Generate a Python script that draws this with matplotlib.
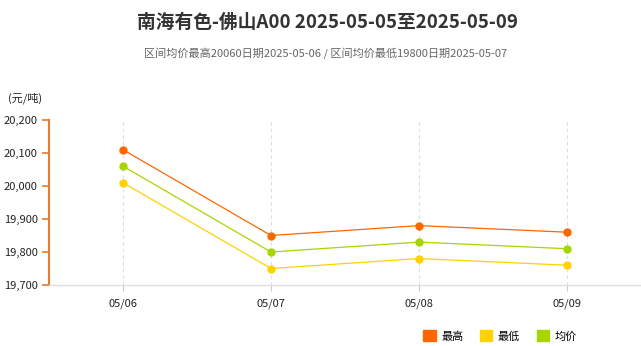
import matplotlib.pyplot as plt
from matplotlib.patches import Patch
from matplotlib.ticker import FuncFormatter

plt.rcParams['font.family'] = ['Noto Sans CJK SC', 'DejaVu Sans']

dates = ['05/06', '05/07', '05/08', '05/09']
high = [20110, 19850, 19880, 19860]
low = [20010, 19750, 19780, 19760]
avg = [20060, 19800, 19830, 19810]
series_names = ['最高', '最低', '均价']
colors = ['#FF6600', '#FFD200', '#A6D600']

fig = plt.figure(figsize=(6.41, 3.46), dpi=100)
ax = fig.add_axes([49 / 641, 61 / 346, 592 / 641, 165 / 346])

x = list(range(len(dates)))
for vals, c in zip([high, low, avg], colors):
    ax.plot(x, vals, color=c, lw=0.9, marker='o', ms=5, mec=c, mfc=c, zorder=3)

for xi in x:
    ax.axvline(xi, color='#dddddd', lw=0.8, ls=(0, (3, 3)), zorder=1)

ax.set_xlim(-0.5, 3.5)
ax.set_ylim(19700, 20200)
ax.set_yticks([19700, 19800, 19900, 20000, 20100, 20200])
ax.yaxis.set_major_formatter(FuncFormatter(lambda v, p: f'{int(v):,}'))
ax.set_xticks(x)
ax.set_xticklabels(dates)

for s in ['top', 'right']:
    ax.spines[s].set_visible(False)
ax.spines['left'].set_color('#E87A2C')
ax.spines['left'].set_linewidth(1.5)
ax.spines['bottom'].set_color('#dddddd')
ax.spines['bottom'].set_linewidth(1.0)
ax.tick_params(axis='y', colors='#E87A2C', length=5, width=1.2, labelsize=8, labelcolor='#222222', pad=3)
ax.tick_params(axis='x', colors='#cccccc', length=4, width=0.8, labelsize=8, labelcolor='#222222', pad=6)

fig.text(0.5 + 7 / 641, 1 - 22 / 346, '南海有色-佛山A00 2025-05-05至2025-05-09', ha='center', va='center',
         fontsize=13.5, fontweight='bold', color='#333333')
fig.text(0.5 + 5 / 641, 1 - 53 / 346, '区间均价最高20060日期2025-05-06 / 区间均价最低19800日期2025-05-07',
         ha='center', va='center', fontsize=8, color='#666666')
fig.text(8 / 641, 1 - 98 / 346, '(元/吨)', ha='left', va='center', fontsize=8, color='#222222')

handles = [Patch(facecolor=c, edgecolor=c) for c in colors]
fig.legend(handles, series_names, loc='center', bbox_to_anchor=(500 / 641, 1 - 336 / 346),
           ncol=3, frameon=False, fontsize=8, handlelength=1.1, handleheight=1.1,
           handletextpad=0.5, columnspacing=1.5)

fig.savefig('out.png', dpi=100)
